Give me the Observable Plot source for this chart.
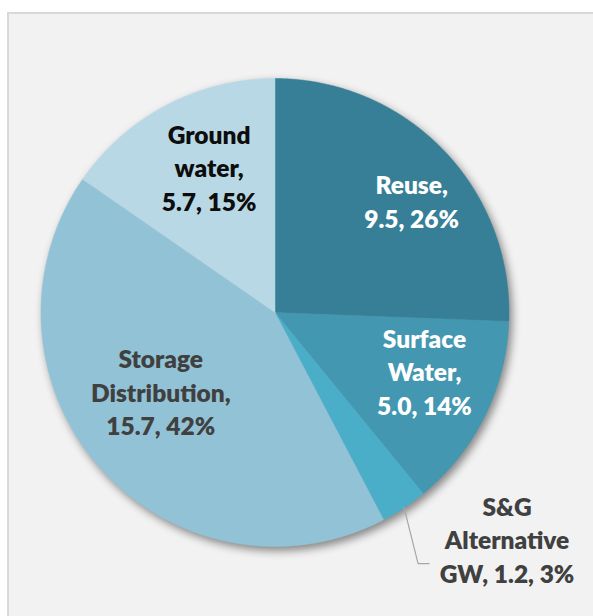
<!DOCTYPE html>
<html><head><meta charset="utf-8">
<script src="https://cdn.jsdelivr.net/npm/d3@7"></script>
<script src="https://cdn.jsdelivr.net/npm/@observablehq/plot@0.6"></script>
<style>
html,body{margin:0;padding:0;background:#fff;width:593px;height:616px;overflow:hidden;}
#frame{position:absolute;left:7px;top:12px;width:620px;height:640px;background:#f2f2f2;border:2px solid #d9d9d9;box-sizing:border-box;}
#chart{position:absolute;left:0;top:0;}
</style></head><body><div id="frame"></div><div id="chart"></div>
<script>
// ---- data ----
const categories = ["Reuse", "Surface Water", "S&G Alternative GW", "Storage Distribution", "Ground water"];
const categoryLines = ["Reuse", "Surface\nWater", "S&G\nAlternative\nGW", "Storage\nDistribution", "Ground\nwater"];
const values = [9.5, 5.0, 1.2, 15.7, 5.7];
const percents = [26, 14, 3, 42, 15];

// ---- style ----
const colors = ["#367f96", "#4397b0", "#4aaec8", "#92c2d6", "#b9d8e5"];
const textColors = ["#ffffff", "#ffffff", "#404040", "#404040", "#0d0d0d"];
const cx = 274.5, cy = 312, r = 234;
const labelRadius = 0.68;
// pixel nudges for inside labels, outside label offsets
const nudges = {"Reuse": [22, -2], "Surface Water": [7, -13], "Storage Distribution": [5, -27], "Ground water": [8, -5]};
const outside = {"S&G Alternative GW": {text: [103, 31], elbow: [14, 56], end: [25, 56]}};

const data = categories.map((c, i) => ({name: c, value: values[i], pct: percents[i], lines: categoryLines[i], tcolor: textColors[i]}));
const arcs = d3.pie().sort(null).value(d => d.value)(data);

const pts = [];
for (const a of arcs) {
  const n = Math.max(2, Math.ceil((a.endAngle - a.startAngle) / 0.005));
  pts.push({name: a.data.name, x: 0, y: 0});
  for (let k = 0; k <= n; k++) {
    const t = a.startAngle + (a.endAngle - a.startAngle) * k / n;
    pts.push({name: a.data.name, x: Math.sin(t), y: Math.cos(t)});
  }
  pts.push({name: a.data.name, x: 0, y: 0});
}

const labels = [], leaders = [];
for (const a of arcs) {
  const d = a.data, mid = (a.startAngle + a.endAngle) / 2;
  const sep = outside[d.name] ? " " : "\n";
  const text = d.lines + "," + sep + d.value.toFixed(1) + ", " + d.pct + "%";
  if (outside[d.name]) {
    const o = outside[d.name];
    const px = Math.sin(mid), py = Math.cos(mid);
    labels.push({text, color: d.tcolor, x: px + o.text[0] / r, y: py - o.text[1] / r});
    leaders.push({name: d.name, x: px, y: py});
    leaders.push({name: d.name, x: px + o.elbow[0] / r, y: py - o.elbow[1] / r});
    leaders.push({name: d.name, x: px + o.end[0] / r, y: py - o.end[1] / r});
  } else {
    const nd = nudges[d.name] || [0, 0];
    labels.push({text, color: d.tcolor,
      x: labelRadius * Math.sin(mid) + nd[0] / r,
      y: labelRadius * Math.cos(mid) - nd[1] / r});
  }
}

const chart = Plot.plot({
  width: 593, height: 616, margin: 0,
  style: {background: "transparent", overflow: "visible"},
  x: {domain: [-1, 1], range: [cx - r, cx + r], axis: null},
  y: {domain: [-1, 1], range: [cy + r, cy - r], axis: null},
  color: {domain: categories, range: colors},
  marks: [
    Plot.line(pts, {x: "x", y: "y", z: "name", fill: "name", stroke: "name", strokeWidth: 0.5, curve: "linear"}),
    Plot.line(leaders, {x: "x", y: "y", z: "name", stroke: "#a6a6a6", strokeWidth: 1.2}),
    Plot.text(labels, {x: "x", y: "y", text: "text", fill: d => d.color, fontSize: 24.5, fontWeight: 800,
      fontFamily: "Lato, 'Open Sans', sans-serif", lineHeight: 1.37, lineAnchor: "middle", textAnchor: "middle"})
  ]
});
const g = chart.querySelector('g[aria-label="line"]');
if (g) g.style.filter = "drop-shadow(3px 4px 4px rgba(0,0,0,0.45))";
document.getElementById("chart").appendChild(chart);
</script>
</body></html>
